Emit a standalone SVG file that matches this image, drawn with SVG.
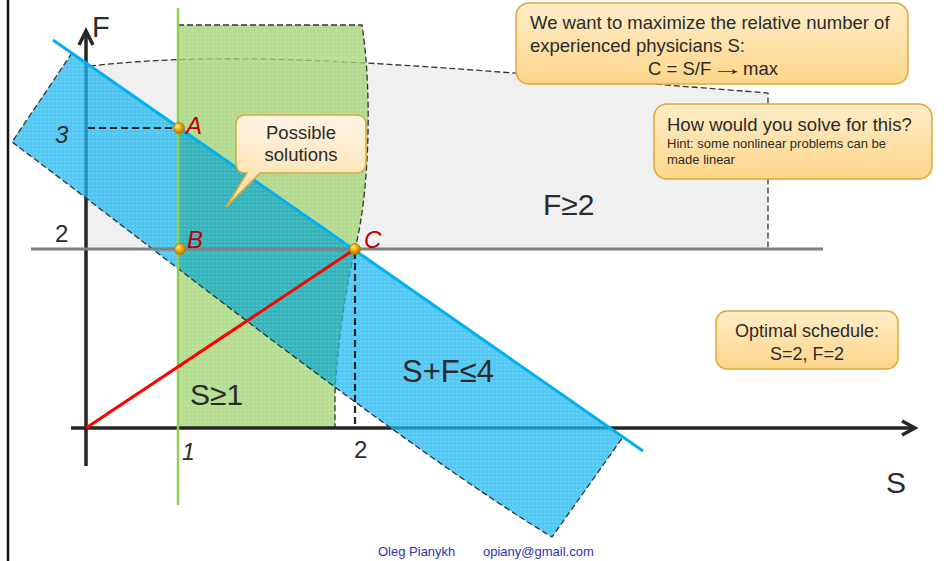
<svg xmlns="http://www.w3.org/2000/svg" width="951" height="561" viewBox="0 0 951 561">
<defs>
<style>
text{font-family:"Liberation Sans",Arial,sans-serif;fill:#2b2b2b}
.dash{fill:none;stroke:#333;stroke-width:1.3;stroke-dasharray:6 3}
.guide{fill:none;stroke:#222;stroke-width:2.2;stroke-dasharray:7 4}
.axis{fill:none;stroke:#262626;stroke-width:3.5}
.lbl{fill:#c00000;font-style:italic;font-size:24px}
.box{stroke:#dba93a;stroke-width:1.5}
.pt{fill:url(#gold);stroke:#b07800;stroke-width:0.8}
.foot{fill:#3232b0;font-size:13px}
.tex{fill:url(#dots)}
</style>
<pattern id="dots" width="4" height="4" patternUnits="userSpaceOnUse">
<rect x="0" y="1" width="2" height="1" fill="#fff" fill-opacity="0.22"/>
</pattern>
<linearGradient id="cg" x1="0" y1="0" x2="0" y2="1">
<stop offset="0" stop-color="#ffedc8"/><stop offset="1" stop-color="#fdd68a"/>
</linearGradient>
<linearGradient id="cg2" x1="0" y1="0" x2="0" y2="1">
<stop offset="0" stop-color="#fff4e4"/><stop offset="1" stop-color="#fedda2"/>
</linearGradient>
<radialGradient id="gold" cx="0.38" cy="0.35" r="0.7">
<stop offset="0" stop-color="#ffe98a"/><stop offset="0.5" stop-color="#e8a800"/><stop offset="1" stop-color="#a86c00"/>
</radialGradient>
<clipPath id="greenClip">
<path d="M178 25 L362 25 C372 90 370 190 355 249 C345 290 337 350 335 393 L335 428 L178 428 Z"/>
</clipPath>
</defs>
<rect width="951" height="561" fill="#fff"/>
<g id="border"><line x1="8" y1="0" x2="8" y2="561" stroke="#111" stroke-width="2.5"/></g>

<g id="region-F-ge-2">
<path d="M86 249 L86 66 C250 48 420 66 768 93 L768 249 Z" fill="#f0f0f0"/>
<path class="dash" d="M90 66 C250 48 420 66 768 93 L768 247"/>
</g>

<g id="region-S-ge-1">
<path d="M178 25 L362 25 C372 90 370 190 355 249 C345 290 337 350 335 393 L335 428 L178 428 Z" fill="#a2d474" fill-opacity="0.78"/>
<path class="tex" d="M178 25 L362 25 C372 90 370 190 355 249 C345 290 337 350 335 393 L335 428 L178 428 Z"/>
<path class="dash" d="M178 25 L362 25 C372 90 370 190 355 249 C345 290 337 350 335 393 L335 428"/>
<line x1="180" y1="427" x2="335" y2="427" stroke="#7cb342" stroke-width="1.5" stroke-dasharray="2 2"/>
</g>

<g id="axes">
<line class="axis" x1="86" y1="466" x2="86" y2="32"/>
<path class="axis" d="M79 45 L86 31 L93 45"/>
<line class="axis" x1="71" y1="428" x2="914" y2="428"/>
<path class="axis" d="M902 421 L915 428 L902 435"/>
</g>

<g id="region-SF-le-4">
<path d="M72 53 L623 437 L552 537 C400 445 150 245 12 142 Z" fill="#1fb5ee" fill-opacity="0.75"/>
<path d="M72 53 L623 437 L552 537 C400 445 150 245 12 142 Z" fill="#28a08c" fill-opacity="0.38" clip-path="url(#greenClip)"/>
<path class="tex" d="M72 53 L623 437 L552 537 C400 445 150 245 12 142 Z"/>
<path class="dash" d="M72 53 L12 142 C150 245 400 445 552 537 L623 437"/>
</g>

<g id="connectors">
<line x1="53" y1="40" x2="643" y2="451" stroke="#00b0f0" stroke-width="3"/>
<line x1="31" y1="249" x2="823" y2="249" stroke="#808080" stroke-width="3"/>
<line x1="178" y1="8" x2="178" y2="505" stroke="#92d050" stroke-width="2.5"/>
<line class="guide" x1="88" y1="128" x2="176" y2="128"/>
<line class="guide" x1="355" y1="252" x2="355" y2="428"/>
<line x1="86" y1="428" x2="355" y2="249" stroke="#ff0000" stroke-width="3"/>
</g>

<g id="point-A"><circle class="pt" cx="179" cy="128" r="5.5"/><text class="lbl" x="186" y="134">A</text></g>
<g id="point-B"><circle class="pt" cx="180" cy="249" r="5.5"/><text class="lbl" x="187" y="248">B</text></g>
<g id="point-C"><circle class="pt" cx="355" cy="249" r="5.5"/><text class="lbl" x="364" y="248">C</text></g>

<g id="axis-labels">
<text x="92" y="37" font-size="29">F</text>
<text x="886" y="493" font-size="30">S</text>
<text x="55" y="143" font-size="24" font-style="italic">3</text>
<text x="55" y="242" font-size="24">2</text>
<text x="182" y="460" font-size="23" font-style="italic">1</text>
<text x="354" y="458" font-size="24">2</text>
</g>

<g id="region-labels">
<text x="543" y="215" font-size="30">F≥2</text>
<text x="402" y="382" font-size="31">S+F≤4</text>
<text x="190" y="405" font-size="30">S≥1</text>
</g>

<g id="callout-possible">
<path class="box" fill="url(#cg2)" d="M246 115 H356 Q366 115 366 125 V163 Q366 173 356 173 H260 L226 207 L247 173 H246 Q236 173 236 163 V125 Q236 115 246 115 Z"/>
<text x="301" y="139" font-size="18.5" text-anchor="middle">Possible</text>
<text x="301" y="161" font-size="18.5" text-anchor="middle">solutions</text>
</g>

<g id="callout-goal">
<rect class="box" fill="url(#cg)" x="516" y="3" width="392" height="81" rx="13"/>
<text x="530" y="29" font-size="18.5">We want to maximize the relative number of</text>
<text x="530" y="52" font-size="18.5">experienced physicians S:</text>
<text x="648" y="75" font-size="18.5">C = S/F</text>
<text transform="translate(711 75) scale(1.75 1)" x="0" y="0" font-size="18.5">→</text>
<text x="743" y="75" font-size="18.5">max</text>
</g>

<g id="callout-hint">
<rect class="box" fill="url(#cg)" x="654" y="104" width="278" height="75" rx="13"/>
<text x="667" y="131" font-size="18.5">How would you solve for this?</text>
<text x="667" y="148" font-size="13">Hint: some nonlinear problems can be</text>
<text x="667" y="164" font-size="13">made linear</text>
</g>

<g id="callout-optimal">
<rect class="box" fill="url(#cg)" x="716" y="311" width="182" height="58" rx="11"/>
<text x="807" y="337" font-size="18" text-anchor="middle">Optimal schedule:</text>
<text x="807" y="360" font-size="18" text-anchor="middle">S=2, F=2</text>
</g>

<g id="footer">
<text class="foot" x="378" y="556">Oleg Pianykh</text>
<text class="foot" x="483" y="556">opiany@gmail.com</text>
</g>
</svg>
